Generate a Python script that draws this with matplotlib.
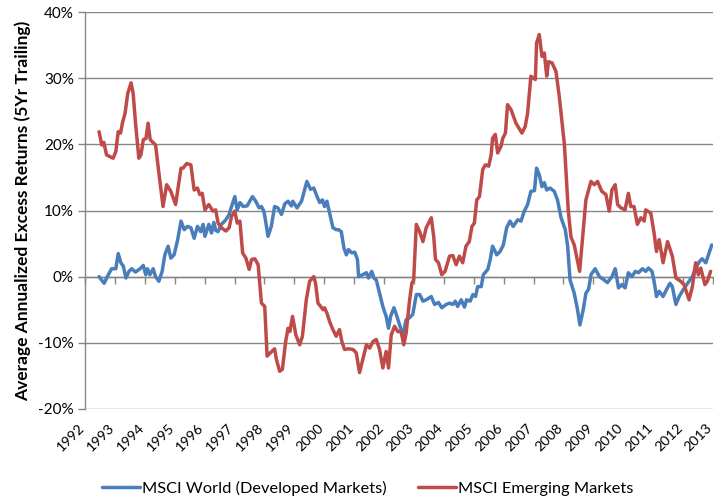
import matplotlib
matplotlib.use('Agg')
import matplotlib.pyplot as plt
from matplotlib.transforms import ScaledTranslation

plt.rcParams['font.family'] = ['Lato', 'DejaVu Sans']

# MSCI World (Developed Markets) – 5Yr trailing annualized excess returns (%)
world_years = [1992.47, 1992.64, 1992.78, 1992.89, 1993.03, 1993.11, 1993.20, 1993.28, 1993.37, 1993.47,
               1993.56, 1993.69, 1993.84, 1993.95, 1994.03, 1994.09, 1994.17, 1994.28, 1994.36, 1994.47,
               1994.58, 1994.67, 1994.78, 1994.87, 1994.98, 1995.10, 1995.21, 1995.32, 1995.43, 1995.54,
               1995.65, 1995.76, 1995.87, 1995.95, 1996.01, 1996.14, 1996.23, 1996.31, 1996.37, 1996.45,
               1996.56, 1996.71, 1996.82, 1996.90, 1997.01, 1997.09, 1997.18, 1997.29, 1997.42, 1997.60,
               1997.71, 1997.82, 1997.90, 1997.98, 1998.04, 1998.12, 1998.23, 1998.34, 1998.45, 1998.57,
               1998.68, 1998.79, 1998.90, 1998.95, 1999.09, 1999.24, 1999.42, 1999.54, 1999.65, 1999.76,
               1999.85, 1999.94, 2000.01, 2000.09, 2000.18, 2000.29, 2000.40, 2000.48, 2000.57, 2000.66,
               2000.74, 2000.81, 2000.92, 2001.02, 2001.11, 2001.15, 2001.29, 2001.41, 2001.48, 2001.59,
               2001.66, 2001.74, 2001.85, 2001.96, 2002.07, 2002.15, 2002.22, 2002.33, 2002.41, 2002.52,
               2002.63, 2002.74, 2002.85, 2002.96, 2003.08, 2003.19, 2003.30, 2003.41, 2003.58, 2003.69,
               2003.82, 2003.93, 2004.08, 2004.19, 2004.30, 2004.38, 2004.46, 2004.58, 2004.69, 2004.76,
               2004.88, 2004.97, 2005.06, 2005.13, 2005.25, 2005.32, 2005.47, 2005.55, 2005.63, 2005.77,
               2005.88, 2005.99, 2006.10, 2006.21, 2006.32, 2006.47, 2006.58, 2006.69, 2006.80, 2006.91,
               2007.03, 2007.10, 2007.19, 2007.28, 2007.36, 2007.44, 2007.55, 2007.69, 2007.80, 2007.92,
               2008.06, 2008.14, 2008.22, 2008.36, 2008.47, 2008.55, 2008.66, 2008.75, 2008.84, 2008.92,
               2009.06, 2009.20, 2009.33, 2009.47, 2009.62, 2009.73, 2009.84, 2009.95, 2010.06, 2010.17,
               2010.29, 2010.40, 2010.51, 2010.64, 2010.75, 2010.84, 2010.96, 2011.03, 2011.11, 2011.20,
               2011.33, 2011.44, 2011.56, 2011.64, 2011.76, 2011.87, 2012.00, 2012.12, 2012.31, 2012.42,
               2012.55, 2012.64, 2012.76, 2012.87, 2012.96]
world_values = [0.0, -1.0, 0.3, 1.2, 1.2, 3.5, 2.1, 1.6, -0.2, 0.8,
                1.2, 0.7, 1.2, 1.7, 0.3, 1.2, 0.3, 1.2, 0.0, -0.7,
                0.8, 3.3, 4.6, 2.8, 3.3, 5.6, 8.4, 7.1, 7.6, 7.4,
                5.8, 7.6, 6.8, 7.9, 6.1, 7.9, 6.6, 8.2, 7.0, 6.8,
                7.9, 8.6, 9.4, 10.6, 12.1, 10.1, 11.2, 10.6, 10.7, 12.1,
                11.4, 10.4, 10.6, 9.9, 8.4, 6.1, 7.6, 10.6, 10.4, 9.4,
                11.0, 11.4, 10.7, 11.4, 10.4, 11.4, 14.4, 13.2, 13.4, 12.1,
                11.2, 11.6, 10.6, 11.4, 9.6, 7.4, 7.1, 7.1, 6.8, 4.3,
                3.3, 4.1, 3.6, 3.7, 2.6, 0.0, 0.3, 0.6, -0.2, 0.8,
                -0.2, -0.5, -2.5, -4.5, -6.0, -7.8, -6.0, -4.7, -5.7, -7.3,
                -8.8, -6.5, -6.2, -5.7, -2.7, -2.7, -3.7, -3.5, -3.0, -4.2,
                -3.9, -4.7, -4.2, -4.0, -4.2, -3.7, -4.5, -3.5, -4.6, -3.5,
                -3.7, -2.7, -3.0, -1.5, -1.5, 0.3, 1.1, 2.6, 4.6, 3.3,
                3.8, 4.8, 7.4, 8.4, 7.6, 8.6, 8.4, 9.9, 10.9, 12.9,
                13.0, 16.4, 15.4, 13.6, 14.2, 13.1, 13.4, 12.9, 11.6, 8.9,
                7.1, 4.6, -0.5, -2.5, -5.0, -7.3, -5.0, -2.5, -1.9, 0.3,
                1.2, 0.0, -0.4, -0.9, 0.0, 1.2, -1.7, -1.2, -1.7, 0.6,
                0.0, 0.8, 0.6, 1.2, 0.8, 1.3, 0.8, -0.7, -3.0, -2.2,
                -3.0, -2.0, -1.0, -1.5, -4.2, -3.0, -2.0, -1.2, 0.0, 1.3,
                2.3, 2.7, 2.1, 3.6, 4.8]

# MSCI Emerging Markets – 5Yr trailing annualized excess returns (%)
em_years = [1992.47, 1992.56, 1992.63, 1992.72, 1992.94, 1993.03, 1993.11, 1993.19, 1993.25, 1993.34,
            1993.43, 1993.54, 1993.61, 1993.69, 1993.80, 1993.87, 1993.95, 1994.04, 1994.11, 1994.18,
            1994.36, 1994.47, 1994.61, 1994.73, 1994.87, 1995.03, 1995.21, 1995.28, 1995.40, 1995.54,
            1995.65, 1995.76, 1995.84, 1995.92, 1996.01, 1996.14, 1996.28, 1996.37, 1996.45, 1996.56,
            1996.71, 1996.82, 1996.90, 1997.01, 1997.09, 1997.18, 1997.27, 1997.38, 1997.49, 1997.57,
            1997.68, 1997.79, 1997.90, 1998.01, 1998.09, 1998.20, 1998.34, 1998.40, 1998.51, 1998.60,
            1998.71, 1998.79, 1998.85, 1998.94, 1999.05, 1999.18, 1999.27, 1999.40, 1999.51, 1999.65,
            1999.71, 1999.79, 1999.88, 1999.96, 2000.01, 2000.09, 2000.18, 2000.29, 2000.40, 2000.51,
            2000.59, 2000.68, 2000.81, 2000.96, 2001.07, 2001.18, 2001.29, 2001.41, 2001.52, 2001.63,
            2001.74, 2001.85, 2001.96, 2002.07, 2002.15, 2002.24, 2002.35, 2002.46, 2002.57, 2002.66,
            2002.74, 2002.85, 2002.93, 2002.99, 2003.08, 2003.19, 2003.30, 2003.41, 2003.58, 2003.66,
            2003.72, 2003.82, 2003.93, 2004.04, 2004.19, 2004.30, 2004.41, 2004.52, 2004.63, 2004.74,
            2004.85, 2004.94, 2005.02, 2005.10, 2005.19, 2005.30, 2005.39, 2005.50, 2005.58, 2005.63,
            2005.72, 2005.80, 2005.91, 2005.97, 2006.06, 2006.13, 2006.25, 2006.41, 2006.61, 2006.72,
            2006.80, 2006.91, 2006.99, 2007.06, 2007.10, 2007.19, 2007.28, 2007.36, 2007.44, 2007.50,
            2007.62, 2007.75, 2007.86, 2008.03, 2008.16, 2008.25, 2008.36, 2008.54, 2008.64, 2008.75,
            2008.92, 2009.03, 2009.14, 2009.28, 2009.42, 2009.53, 2009.62, 2009.73, 2009.81, 2009.92,
            2010.06, 2010.17, 2010.25, 2010.36, 2010.47, 2010.59, 2010.70, 2010.75, 2010.92, 2011.03,
            2011.11, 2011.20, 2011.33, 2011.48, 2011.64, 2011.76, 2011.92, 2012.03, 2012.20, 2012.31,
            2012.42, 2012.51, 2012.59, 2012.73, 2012.81, 2012.92]
em_values = [21.9, 19.9, 20.3, 18.4, 17.9, 18.9, 21.9, 21.7, 23.2, 24.7,
             27.7, 29.3, 27.7, 23.2, 17.9, 18.4, 20.7, 20.9, 23.2, 20.7,
             19.9, 15.7, 10.6, 13.9, 12.9, 10.9, 16.4, 16.4, 17.1, 16.9,
             13.1, 13.4, 12.4, 12.6, 10.1, 10.9, 9.9, 10.1, 8.1, 7.4,
             6.9, 7.4, 9.1, 9.9, 8.1, 8.4, 3.6, 2.8, 1.1, 2.6,
             2.7, 1.8, -4.0, -4.5, -12.0, -11.5, -10.9, -12.5, -14.3, -14.0,
             -9.8, -7.8, -8.3, -6.0, -8.8, -10.3, -9.0, -3.5, -0.7, 0.0,
             -1.0, -4.0, -4.5, -5.0, -4.7, -5.5, -6.8, -8.0, -9.0, -8.0,
             -9.8, -11.0, -10.9, -11.0, -11.5, -14.5, -12.5, -10.3, -10.8, -9.8,
             -9.5, -11.0, -13.8, -11.3, -13.8, -8.8, -7.5, -8.3, -8.3, -10.3,
             -8.5, -3.7, -1.0, -0.5, 7.9, 6.8, 5.3, 7.4, 8.9, 6.1,
             2.6, 2.1, 0.3, 0.8, 3.1, 3.2, 1.8, 3.1, 2.1, 4.6,
             5.3, 7.6, 8.1, 11.6, 12.1, 16.2, 16.9, 16.7, 18.4, 20.9,
             21.5, 18.7, 19.7, 20.9, 21.7, 26.0, 25.2, 23.2, 21.7, 22.7,
             24.7, 30.3, 30.0, 29.8, 35.3, 36.6, 33.3, 33.8, 30.3, 32.5,
             32.3, 31.0, 27.2, 20.0, 10.0, 6.0, 4.8, 0.8, 6.0, 11.6,
             14.4, 13.9, 14.4, 12.9, 12.4, 9.9, 13.1, 13.9, 10.9, 10.4,
             10.1, 12.6, 10.6, 10.6, 7.9, 8.9, 8.4, 10.1, 9.6, 6.6,
             3.8, 5.6, 2.1, 5.3, 3.1, -0.2, -0.7, -1.2, -3.5, -1.5,
             2.1, 0.3, 1.3, -1.2, -0.7, 0.8]

year_ticks = list(range(1992, 2014))
y_ticks = [-20, -10, 0, 10, 20, 30, 40]
series_labels = ['MSCI World (Developed Markets)', 'MSCI Emerging Markets']
y_label = 'Average Annualized Excess Returns (5Yr Trailing)'

blue = '#4A7EBB'
red = '#BE4B48'
grey = '#868686'

fig = plt.figure(figsize=(7.14, 5.01), dpi=100)
ax = fig.add_axes([85 / 714, 1 - 409 / 501, 628 / 714, 397 / 501])

ax.plot(world_years, world_values, color=blue, lw=2.5, label=series_labels[0],
        solid_joinstyle='round', solid_capstyle='round')
ax.plot(em_years, em_values, color=red, lw=2.5, label=series_labels[1],
        solid_joinstyle='round', solid_capstyle='round')

ax.set_xlim(1992, 2013)
ax.set_ylim(-20, 40)
ax.set_yticks(y_ticks)
ax.set_yticklabels([f'{v}%' for v in y_ticks])
ax.grid(axis='y', color=grey, lw=1)
ax.set_axisbelow(True)
for s in ['top', 'right', 'bottom']:
    ax.spines[s].set_visible(False)
ax.spines['left'].set_color(grey)
ax.spines['left'].set_linewidth(1)
ax.tick_params(axis='y', length=5, width=1, color=grey, labelsize=11, pad=3)

ax.set_xticks(year_ticks)
ax.set_xticklabels([str(y) for y in year_ticks], rotation=45, ha='right', va='top',
                   rotation_mode='anchor', fontsize=10.3)
ax.tick_params(axis='x', length=0, pad=9)
shift = ScaledTranslation(-7 / 100, 0, fig.dpi_scale_trans)
for lbl in ax.get_xticklabels():
    lbl.set_transform(lbl.get_transform() + shift)

sec = ax.secondary_xaxis(0, transform=ax.transData)
sec.set_xticks(year_ticks)
sec.tick_params(axis='x', length=5, width=1, color=grey, labelbottom=False, direction='out')
sec.spines['bottom'].set_color(grey)
sec.spines['bottom'].set_linewidth(1)

ax.set_ylabel(y_label, fontsize=12.5, fontweight='bold', labelpad=5)

fig.legend(loc='center', bbox_to_anchor=(0.515, 0.026), ncol=2, frameon=False,
           fontsize=11.8, handlelength=2.3, columnspacing=1.9, handletextpad=0.15)

fig.savefig('out.png', dpi=100)
